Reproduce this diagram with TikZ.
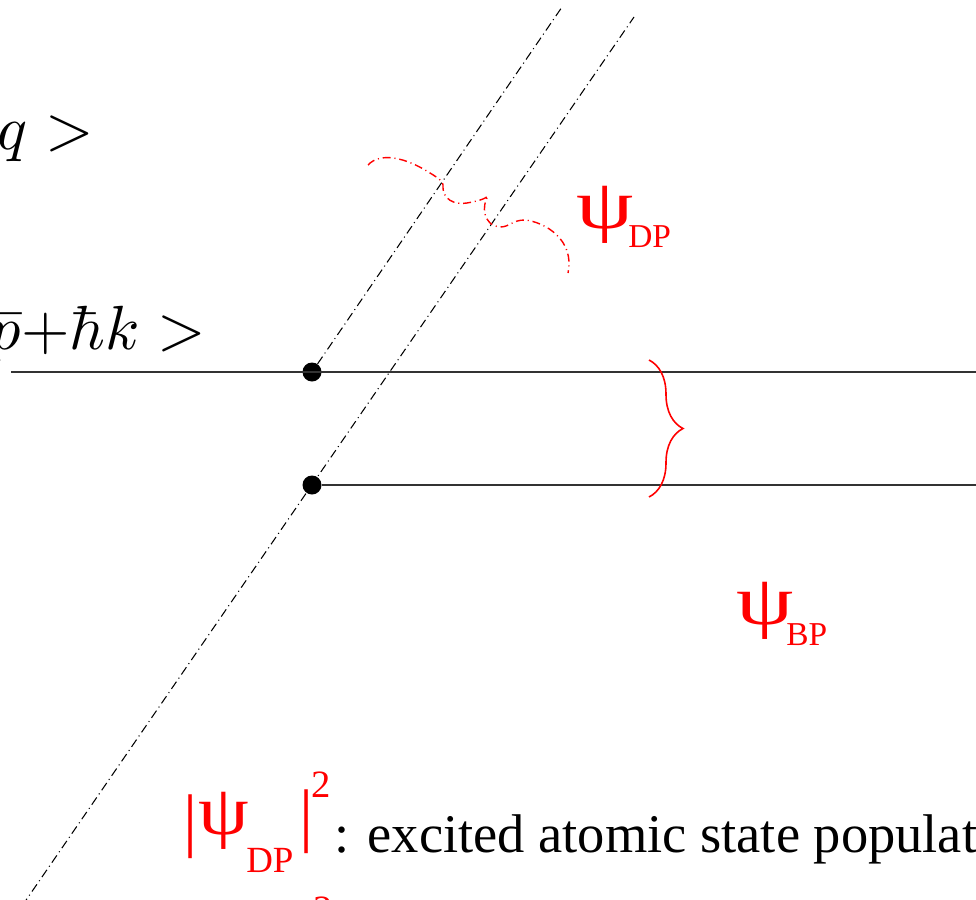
\RequirePackage{fix-cm}
\documentclass[tikz,border=0pt]{standalone}
\usepackage[no-math]{fontspec}
\setmainfont{Liberation Serif}
\usetikzlibrary{decorations.pathreplacing}

\newcommand{\widepsi}[1]{\scalebox{#1}[1]{ψ}}
\newcommand{\bigket}[1]{\scalebox{3.55}{$#1$}}

\begin{document}
\begin{tikzpicture}[x=0.02cm,y=-0.02cm,
  chainline/.style={line width=0.6pt, dash pattern=on 5pt off 2.2pt on 0.6pt off 2.2pt},
  level/.style={line width=0.8pt, black!80},
  blackdot/.style={circle, fill=black, inner sep=0pt, minimum size=0.38cm},
  statelabel/.style={anchor=base west, inner sep=0pt},
  psilabel/.style={anchor=base west, inner sep=0pt, text=red, font=\fontsize{40}{42}\selectfont},
  sublabel/.style={anchor=base west, inner sep=0pt, text=red, font=\fontsize{19}{21}\selectfont},
  barlabel/.style={anchor=base west, inner sep=0pt, text=red, font=\fontsize{40}{42}\selectfont},
  powlabel/.style={anchor=base west, inner sep=0pt, text=red, font=\fontsize{22}{24}\selectfont}]
\useasboundingbox (0,0) rectangle (976,899);
\clip (0,0) rectangle (976,899);

% levels and dots
\node[blackdot] (dot1) at (312,372) {};
\node[blackdot] (dot2) at (312,485) {};
\coordinate (l1top) at (562,7);
\coordinate (l2top) at (634,17);
\coordinate (l2bot) at (22,906);
\coordinate (h1start) at (11,372);
\coordinate (h1end) at (980,372);
\coordinate (h2end) at (980,485);
\draw[level] (h1start) -- (h1end);
\draw[level] (dot2) -- (h2end);
\draw[chainline] (dot1) -- (l1top);
\draw[chainline] (l2bot) -- (l2top);

% state labels
\node[statelabel] (qstate) at (-2.5,149) {\bigket{q >}};
\node[statelabel] (pstate) at (-10.5,349) {\bigket{\bar{p}{+}\hbar k >}};

% wave packets
\draw[red, line width=0.8pt, dash pattern=on 4.5pt off 2.2pt on 0.6pt off 2.2pt]
  (368,165) .. controls (380,152) and (405,157) .. (430,173)
  .. controls (440,179) and (443,182) .. (443,185)
  .. controls (442,200) and (455,205) .. (467,203)
  .. controls (478,201) and (485,199) .. (488,196)
  .. controls (482,205) and (482,225) .. (500,227)
  .. controls (510,227) and (512,220) .. (525,220)
  .. controls (545,222) and (575,240) .. (568,273);
\draw[red, line width=0.9pt, decorate, decoration={brace, amplitude=0.68cm}] (649,360) -- (649,497);

\node[psilabel] (psidp) at (576,228) {\widepsi{1.3}};
\node[sublabel] (dp) at (628,247) {DP};
\node[psilabel] (psibp) at (736,624) {\widepsi{1.3}};
\node[sublabel] (bp) at (786,645) {BP};

% population
\node[barlabel] (barl) at (183,843) {|};
\node[psilabel] (psipop) at (198,834) {\widepsi{1.15}};
\node[sublabel, font=\fontsize{21}{23}\selectfont] (dppop) at (246,872) {DP};
\node[barlabel] (barr) at (299,838) {|};
\node[powlabel] (sq) at (311,797) {2};
\node[anchor=base west, inner sep=0pt, font=\fontsize{31}{34}\selectfont] (poptext) at (334,852) {: excited atomic state populat};
\node[powlabel] (sqnext) at (313,922) {2};
\end{tikzpicture}
\end{document}
